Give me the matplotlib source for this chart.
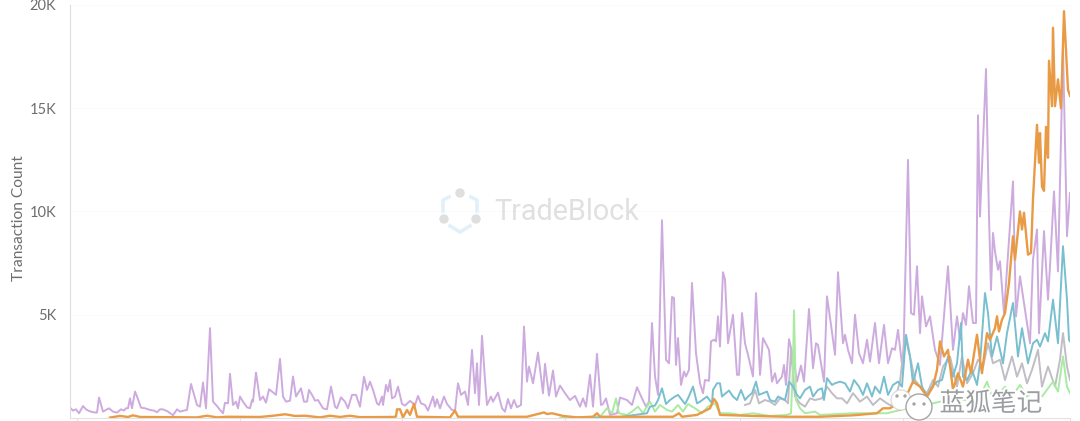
import matplotlib
matplotlib.use("Agg")
import matplotlib.pyplot as plt
import matplotlib.patheffects as pe
from matplotlib.patches import Circle

# values, y in thousands of transactions
purple_x = [0,3,6,9,13,16,19,23,27,29,33,39,43,47,51,54,56,58,60,62,65,67,71,75,80,84,87,90,93,98,103,107,110,114,117,121,127,130,133,136,140,143,147,150,153,155,158,160,163,166,168,170,173,177,180,182,183,186,190,193,196,199,202,206,210,213,216,220,223,226,228,231,234,237,239,242,245,248,253,257,261,265,267,271,275,278,282,286,
            290,294,297,300,303,307,309,312,313,316,318,320,322,325,328,332,335,340,345,348,351,355,358,363,365,367,370,374,377,382,385,388,391,395,398,402,405,407,409,412,415,417,421,423,428,432,435,438,441,444,447,451,454,457,459,463,468,473,475,479,483,486,490,495,500,505,510,513,516,520,523,527,531,533,536,540,547,550,557,562,567,572,576,579,582,585,588,592,596,599,602,604,606,608,611,614,616,619,622,626,630,633,635,639,641,644,646,648,
            650,653,655,658,663,667,669,672,675,678,683,686,690,693,699,702,705,707,712,714,716,719,723,727,731,734,739,743,746,748,754,757,761,765,768,773,775,778,782,785,789,793,797,800,805,809,814,818,822,825,828,833,838,841,844,847,850,852,856,860,865,870,878,883,887,890,893,896,899,903,906,908,910,916,919,921,923,925,928,930,934,937,943,946,950,960,963,967,969,974,978,980,984,988,993,997,1000]
purple_y = [.50,.36,.42,.23,.58,.42,.34,.28,.26,.99,.31,.47,.31,.26,.42,.36,.47,.47,.95,.47,1.28,1.04,.50,.47,.39,.36,.28,.42,.42,.31,.13,.42,.31,.36,.39,1.65,.63,.55,1.72,.47,4.35,.79,.58,.39,.23,.74,.71,2.14,.63,.79,.47,1.04,.79,.52,.47,.87,.79,2.20,.87,1.04,.74,1.39,1.28,1.12,2.86,1.04,.79,.84,2.01,1.04,1.20,1.44,.79,.79,1.36,1.12,.84,.87,.47,.42,1.52,.55,.47,1.00,.79,.47,1.12,1.12,
            .55,2.0,1.36,1.76,1.36,.71,.63,1.04,.63,1.60,1.28,1.84,.95,1.04,1.52,.68,.60,.83,.63,1.07,.71,.63,.36,1.04,.55,.91,.47,1.04,.68,.39,.36,1.68,1.12,1.28,.63,3.30,1.20,2.65,.63,3.98,1.84,.63,1.04,.79,1.23,.47,.31,.92,.47,.87,.52,.63,4.43,1.76,2.49,1.68,3.17,1.20,2.62,1.08,2.30,1.04,1.57,1.20,.87,1.07,.55,.95,.55,2.09,.55,3.11,.63,.68,.95,.15,.23,.99,.87,.63,1.49,.95,.55,.79,4.60,2.01,1.12,9.58,2.82,2.65,5.86,5.81,2.57,3.87,1.60,2.25,2.01,2.33,6.54,3.14,1.68,1.20,1.84,1.80,3.71,3.79,3.71,4.92,
            3.46,7.06,6.70,3.62,5.0,2.09,2.09,5.08,3.62,3.06,2.01,6.05,2.09,3.87,3.30,1.76,2.17,1.68,2.01,2.57,1.60,3.82,2.98,1.76,2.54,1.76,5.28,2.41,3.62,3.54,1.76,5.89,4.51,3.06,7.06,3.62,4.03,3.30,2.65,5.0,3.14,2.65,3.79,2.73,4.60,2.65,4.51,2.65,3.38,3.30,4.27,2.17,12.5,5.08,5.0,7.35,4.11,5.89,4.43,4.92,3.30,2.57,7.35,3.30,4.92,3.79,5.08,4.51,6.38,4.60,4.60,14.66,9.76,16.9,9.76,6.2,8.96,8.07,7.18,7.59,5.08,7.2,11.46,4.92,6.86,3.62,7.67,9.13,4.1,9.05,5.73,7.35,10.97,7.1,17.9,8.8,10.9]

orange_x = [40,50,58,63,70,127,137,147,157,190,203,215,225,235,250,260,270,280,290,323,326,327,330,333,337,340,344,347,380,385,388,457,474,477,482,493,507,523,527,530,603,609,612,627,640,644,647,650,
            683,717,750,783,807,813,820,825,830,843,850,857,863,867,870,874,878,883,888,893,898,901,907,910,912,917,920,925,927,929,932,935,939,943,945,950,952,954,958,961,963,967,969,970,972,974,976,978,979,982,983,985,988,991,994,998,1000]
orange_y = [.02,.1,.05,.13,.05,.03,.11,.03,.06,.05,.11,.18,.10,.11,.03,.11,.05,.11,.04,.05,.07,.42,.42,.03,.39,.15,.68,.06,.03,.36,.06,.06,.27,.19,.23,.1,.03,.06,.23,.06,.06,.23,.06,.15,.47,.92,.71,.15,
            .1,.06,.06,.13,.23,.47,.47,.63,.39,1.76,1.52,1.04,1.52,2.33,3.71,2.98,3.30,1.36,2.17,1.52,2.82,2.17,4.03,2.82,2.17,4.11,3.79,4.35,4.92,4.19,4.76,5.08,6.54,8.8,7.67,10.0,9.13,9.94,7.91,8.0,10.6,14.2,12.36,13.8,11.2,11.0,14.1,12.6,17.3,15.1,18.9,15.1,16.4,15.0,19.7,15.9,15.6]

teal_x = [503,523,547,577,580,585,588,592,596,600,605,608,612,615,618,623,627,630,637,642,643,647,650,652,655,659,663,667,671,675,678,682,686,689,693,697,700,705,708,715,719,723,727,730,735,740,743,748,752,754,757,762,765,770,775,780,784,789,793,797,802,805,810,814,818,823,828,832,836,840,843,848,852,857,862,867,872,878,883,887,891,893,897,902,907,910,915,918,922,927,933,937,943,948,952,958,963,967,970,975,978,983,988,993,997,999,1000]
teal_y = [.01,.01,.03,.23,.55,.6,.87,1.44,.68,.87,1.04,1.12,.87,.68,.95,1.52,.71,.79,1.04,.71,1.36,1.68,1.68,1.04,1.17,1.33,1.04,.87,1.36,.87,1.04,1.2,1.76,1.12,1.2,1.28,.87,.79,1.04,.87,1.76,1.52,1.12,.95,1.36,1.52,1.04,1.36,1.44,.87,1.93,1.6,1.68,1.76,1.68,1.28,1.84,1.52,1.12,1.68,1.04,1.52,1.2,2.0,1.12,1.6,1.76,1.52,4.03,2.98,1.68,2.65,1.52,1.04,1.52,1.76,1.84,2.98,2.0,2.65,4.6,2.0,1.84,2.33,1.6,2.65,6.05,5.08,2.98,3.95,2.65,4.11,5.57,2.98,4.35,2.65,3.62,3.79,3.46,4.11,3.71,5.73,3.62,8.32,5.73,3.79,3.71]

gray_x = [675,680,685,689,695,700,705,710,715,718,721,725,730,735,740,745,752,757,762,767,772,777,783,790,797,803,810,817,823,830,835,840,845,850,857,863,868,873,880,887,892,897,903,908,913,918,923,930,935,942,947,952,957,962,968,972,978,985,990,993,997,1000]
gray_y = [.63,.71,1.36,.71,.87,.79,.63,.95,.87,.71,3.3,1.04,.71,.55,.95,.87,.95,1.52,1.2,.95,.95,.71,1.2,.79,1.04,.63,.95,.71,.55,1.76,3.95,2.98,1.84,1.52,1.2,1.84,1.52,2.49,2.98,1.52,2.98,1.68,2.17,2.82,2.49,3.62,2.65,2.82,1.84,2.98,2.0,2.65,1.68,2.33,3.3,1.52,2.49,1.52,2.82,4.11,2.49,1.84]

green_x = [490,503,523,530,537,542,546,549,557,562,568,573,580,585,590,597,602,608,613,618,625,632,638,645,650,660,670,683,700,717,721,723,724,726,730,735,745,750,783,817,837,850,863,877,890,903,910,917,922,928,935,942,950,957,965,972,983,988,993,997,1000]
green_y = [0,.03,.06,.06,.47,.23,.95,.23,.15,.31,.55,.23,.79,.31,.63,.39,.31,.63,.31,.68,.47,.23,.55,.71,.23,.23,.15,.23,.1,.15,.23,2.49,5.21,.87,.47,.23,.31,.15,.23,.23,.47,.47,.71,.87,.87,.87,1.04,1.76,1.04,1.12,1.52,1.04,1.6,1.04,1.36,1.04,1.76,1.28,2.98,1.52,1.2]

y_ticks = [5, 10, 15, 20]
y_labels = ["5K", "10K", "15K", "20K"]
x_ticks = [7, 170, 332, 495, 670, 833, 1000]

plt.rcParams['font.family'] = ['Lato', 'DejaVu Sans']

fig = plt.figure(figsize=(10.8, 4.21), dpi=100)
ax = fig.add_axes([70/1080, 3/421, 1000/1080, 413/421])

ax.plot(purple_x, purple_y, color='#cdabdf', linewidth=1.4)
ax.plot(gray_x, gray_y, color='#c0bdc5', linewidth=1.4)
ax.plot(green_x, green_y, color='#a9eba3', linewidth=1.4)
ax.plot(teal_x, teal_y, color='#78bfcf', linewidth=1.4)
ax.plot(orange_x, orange_y, color='#e99a45', linewidth=1.7)

ax.set_xlim(0, 1000)
ax.set_ylim(0, 20)
ax.set_yticks(y_ticks)
ax.set_yticklabels(y_labels, fontsize=10.5, color='#6e6e6e')
ax.set_xticks(x_ticks)
ax.set_xticklabels([])
ax.tick_params(axis='y', length=0, pad=10)
ax.tick_params(axis='x', length=3, color='#e2e2e2', width=0.8)
ax.grid(True, axis='y', linestyle=':', linewidth=0.6, color='#f3f3f3')
ax.set_axisbelow(True)
for side in ['top', 'right']:
    ax.spines[side].set_visible(False)
ax.spines['left'].set_color('#dedede')
ax.spines['bottom'].set_color('#e2e2e2')
ax.set_ylabel('Transaction Count', fontsize=11.2, color='#6e6e6e')
ax.yaxis.set_label_coords(-44/1000, 0.485)

# watermarks, placed in picture pixels
over = fig.add_axes([0, 0, 1, 1])
over.set_xlim(0, 1080)
over.set_ylim(421, 0)
over.axis('off')
over.patch.set_alpha(0)

# three arcs of the hexagon logo, gaps at the dots
for seg_x, seg_y in [([449, 443, 443], [197, 200, 211]),
                     ([471, 477, 477], [197, 200, 211]),
                     ([450, 460, 470], [226, 232, 226])]:
    over.plot(seg_x, seg_y, color='#e2f1f9', linewidth=2.6)
for cx, cy in [(460, 193), (444, 219), (476, 219)]:
    over.add_patch(Circle((cx, cy), 4, color='#dfdfdf', zorder=3))
over.text(494, 212, 'TradeBlock', fontsize=20.7, color='#e0e0e0', va='center', ha='left',
          family=['Roboto', 'DejaVu Sans'])

over.add_patch(Circle((901, 400), 10, facecolor='white', edgecolor='#d8d8d8', linewidth=0.8, zorder=4))
over.add_patch(Circle((919, 407), 13, facecolor='white', edgecolor='#a5a5a5', linewidth=1, zorder=5))
for cx, cy in [(914, 404), (924, 404), (897, 396), (905, 396)]:
    over.add_patch(Circle((cx, cy), 1, color='#a5a5a5', zorder=6))
over.text(991, 404, '蓝狐笔记', fontsize=18.5, color='#9a9ea1', va='center', ha='center',
          family=['Noto Sans CJK SC', 'DejaVu Sans'], zorder=7,
          path_effects=[pe.withStroke(linewidth=3, foreground='white')])

fig.savefig('out.png', dpi=100)
